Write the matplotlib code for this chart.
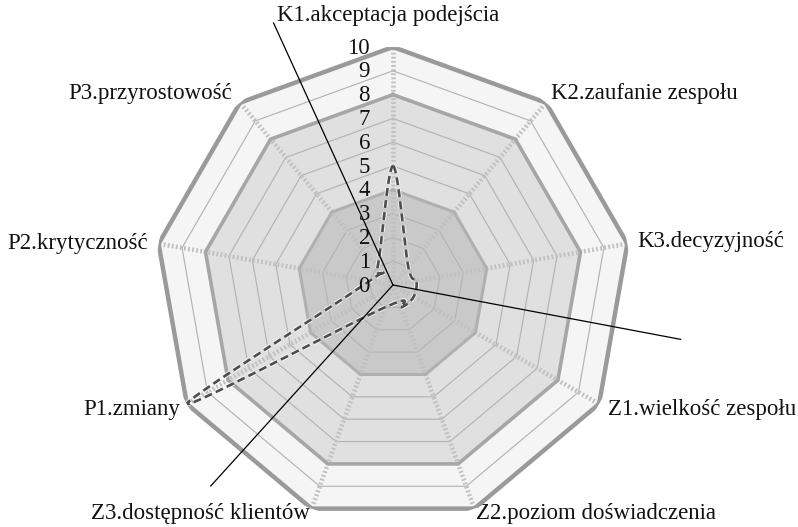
import numpy as np
import matplotlib.pyplot as plt
from matplotlib import patheffects as pe

plt.rcParams['font.family'] = ['Liberation Serif', 'DejaVu Serif']

# Data
categories = ['K1.akceptacja podejścia', 'K2.zaufanie zespołu', 'K3.decyzyjność',
              'Z1.wielkość zespołu', 'Z2.poziom doświadczenia', 'Z3.dostępność klientów',
              'P1.zmiany', 'P2.krytyczność', 'P3.przyrostowość']
band_outer = [10, 10, 10, 10, 10, 10, 10, 10, 10]
band_mid = [8, 8, 8, 8, 8, 8, 8, 8, 8]
band_inner = [4, 4, 4, 4, 4, 4, 4, 4, 4]
project = [5, 1, 1, 1, 1, 1, 10, 1, 1]
ticks = [0, 1, 2, 3, 4, 5, 6, 7, 8, 9, 10]
# hand-drawn group dividers (degrees clockwise from K1, length in scale units)
divider_angles = [335.5, 100.7, 222.2]
divider_lengths = [12.1, 12.3, 11.4]

n = len(categories)
theta = np.arange(n) * 2 * np.pi / n


def closed(vals):
    return np.r_[theta, theta[:1]], np.r_[vals, vals[:1]]


def smooth_closed(th, r, steps=40):
    # Catmull-Rom style bezier through the points, like a smoothed line
    P = np.c_[r * np.sin(th), r * np.cos(th)]
    N = len(P)
    t = np.linspace(0, 1, steps, endpoint=False)[:, None]
    pts = []
    for i in range(N):
        p0, p1, p2, p3 = P[i - 1], P[i], P[(i + 1) % N], P[(i + 2) % N]
        c1 = p1 + (p2 - p0) / 6
        c2 = p2 - (p3 - p1) / 6
        pts.append((1 - t) ** 3 * p1 + 3 * (1 - t) ** 2 * t * c1
                   + 3 * (1 - t) * t ** 2 * c2 + t ** 3 * p2)
    pts = np.vstack(pts + [P[:1]])
    return np.arctan2(pts[:, 0], pts[:, 1]), np.hypot(pts[:, 0], pts[:, 1])


fig = plt.figure(figsize=(7.98, 5.27), dpi=100)
ax = fig.add_axes([0.1942, 0.0076, 0.5965, 0.9032], projection='polar')
ax.set_theta_zero_location('N')
ax.set_theta_direction(-1)
ax.set_ylim(0, 10)
ax.set_xticks([])
ax.set_yticks([])
ax.grid(False)
ax.spines['polar'].set_visible(False)
ax.patch.set_visible(False)

# filled bands
for vals, fc in [(band_outer, '#f5f5f5'), (band_mid, '#e0e0e0'), (band_inner, '#c9c9c9')]:
    tt, rr = closed(np.array(vals, dtype=float))
    ax.fill(tt, rr, facecolor=fc, edgecolor='none', zorder=1)

# thin grid polygons
for v in ticks[1:]:
    if v in (4, 8, 10):
        continue
    tt, rr = closed(np.full(n, v, dtype=float))
    ax.plot(tt, rr, color='#b4b4b4', lw=0.85, zorder=2)

# spokes
for a in theta:
    ax.plot([a, a], [0, 10], color='#c0c0c0', lw=3.3,
            linestyle=(0, (0.4, 0.5)), zorder=3, solid_capstyle='butt')

# band edges
for vals, ec, lw in [(band_outer, '#9a9a9a', 3.2),
                     (band_mid, '#a6a6a6', 2.6),
                     (band_inner, '#b0b0b0', 2.2)]:
    tt, rr = closed(np.array(vals, dtype=float))
    ax.plot(tt, rr, color=ec, lw=lw, zorder=4, solid_joinstyle='miter')

# project profile (smoothed dashed line)
st, sr = smooth_closed(theta, np.array(project, dtype=float))
ax.plot(st, sr, color='#4d4d4d', lw=1.9, linestyle=(0, (3.0, 1.6)), zorder=6,
        path_effects=[pe.Stroke(linewidth=3.4, foreground='white', alpha=0.75), pe.Normal()])

# group dividers
for a, L in zip(divider_angles, divider_lengths):
    ax.plot([np.deg2rad(a), np.deg2rad(a)], [0, L], color='black', lw=0.9,
            zorder=7, clip_on=False)

# radial tick labels along K1 axis
for v in ticks:
    ax.annotate(str(v), xy=(0, v), xytext=(-23, -1), textcoords='offset pixels',
                ha='right', va='center', fontsize=16.5, color='#111111', zorder=8)

# category labels
offsets = [(-5, 32, 'center'), (5, 9, 'left'), (10, 2, 'left'),
           (9, -6, 'left'), (2, -5, 'left'), (-2, -5, 'right'),
           (-7, -6, 'right'), (-11, 0, 'right'), (-8, 9, 'right')]
for a, lab, (dx, dy, ha) in zip(theta, categories, offsets):
    ax.annotate(lab, xy=(a, 10), xytext=(dx, dy), textcoords='offset pixels',
                ha=ha, va='center', fontsize=16.5, color='#111111',
                annotation_clip=False)

fig.savefig('out.png', dpi=100)
